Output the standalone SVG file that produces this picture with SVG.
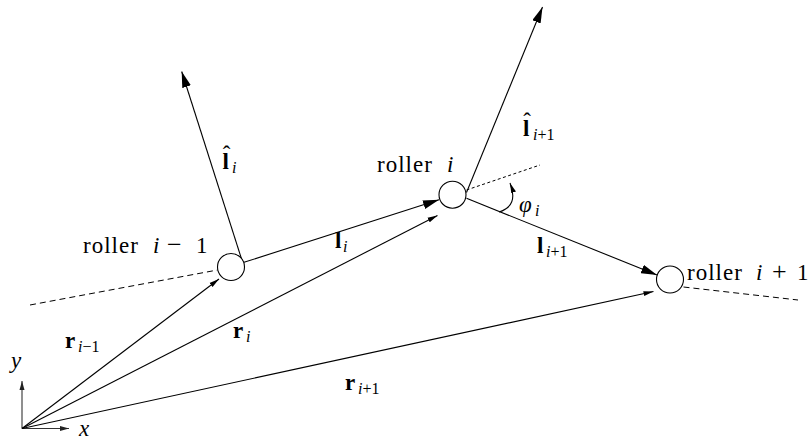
<svg xmlns="http://www.w3.org/2000/svg" width="809" height="440" viewBox="0 0 809 440">
<style>
  .ln { stroke:#000; stroke-width:1.1; fill:none; }
  .dash { stroke:#000; stroke-width:1; fill:none; stroke-dasharray:6 4; }
  .dot { stroke:#000; stroke-width:1; fill:none; stroke-dasharray:3 2.5; }
  .ax { stroke:#333; stroke-width:1.1; fill:none; }
  .roller { fill:#fff; stroke:#000; stroke-width:1.1; }
  text { font-size:23px; fill:#000; }
  .word { letter-spacing:1px; }
  .it { font-style:italic; }
  .bf { font-weight:bold; }
  .sub { font-size:16px; }
  .op { font-size:26px; }
</style>
<defs>
  <marker id="big" viewBox="0 0 16 9" markerWidth="16" markerHeight="9" refX="16" refY="4.5" orient="auto" markerUnits="userSpaceOnUse">
    <path d="M0,0 L16,4.5 L0,9 z" fill="#000"/>
  </marker>
  <marker id="small" viewBox="0 0 10 6" markerWidth="10" markerHeight="6" refX="10" refY="3" orient="auto" markerUnits="userSpaceOnUse">
    <path d="M0,0.5 L10,3 L0,5.5 z" fill="#000"/>
  </marker>
  <marker id="axh" viewBox="0 0 9 6" markerWidth="9" markerHeight="6" refX="9" refY="3" orient="auto" markerUnits="userSpaceOnUse">
    <path d="M0,0.5 L9,3 L0,5.5 z" fill="#222"/>
  </marker>
</defs>

<g id="connectors">
  <line class="dash" x1="30" y1="305" x2="217.5" y2="270"/>
  <line class="dash" x1="683.5" y1="287" x2="798" y2="300"/>
  <line class="dot" x1="466.5" y1="190" x2="540" y2="165"/>
  <line class="ax" x1="22" y1="428.5" x2="22" y2="381" marker-end="url(#axh)"/>
  <line class="ax" x1="22" y1="428.5" x2="69" y2="428.5" marker-end="url(#axh)"/>
  <line class="ln" x1="22" y1="428.5" x2="219" y2="279" marker-end="url(#small)"/>
  <line class="ln" x1="22" y1="428.5" x2="437.5" y2="215.5" marker-end="url(#small)"/>
  <line class="ln" x1="22" y1="428.5" x2="653.5" y2="291.5" marker-end="url(#small)"/>
  <line class="ln" x1="244" y1="262.3" x2="439" y2="199.8" marker-end="url(#big)"/>
  <line class="ln" x1="466.5" y1="198.3" x2="657" y2="275" marker-end="url(#big)"/>
  <line class="ln" x1="242.5" y1="262" x2="181.7" y2="71.5" marker-end="url(#big)"/>
  <line class="ln" x1="466.5" y1="192.5" x2="542.5" y2="7" marker-end="url(#big)"/>
  <path class="ln" d="M499,212 Q519,206 510,183" marker-end="url(#small)"/>
</g>

<g font-family="Liberation Serif, Times New Roman, DejaVu Serif, serif">
<g id="roller-i-1">
  <circle class="roller" cx="231" cy="267" r="13.5"/>
  <text x="83" y="253" class="word">roller</text>
  <text x="153" y="253" class="it">i</text>
  <text x="167" y="253" class="op">−</text>
  <text x="196" y="253">1</text>
</g>
<g id="roller-i">
  <circle class="roller" cx="452.5" cy="194.7" r="13.5"/>
  <text x="377" y="172" class="word">roller</text>
  <text x="447" y="172" class="it">i</text>
</g>
<g id="roller-i1">
  <circle class="roller" cx="670" cy="279.5" r="13.5"/>
  <text x="687" y="279.5" class="word">roller</text>
  <text x="756" y="279.5" class="it">i</text>
  <text x="772" y="279.5" class="op">+</text>
  <text x="797" y="279.5">1</text>
</g>

<g id="labels">
  <text x="222.5" y="169"><tspan class="bf">l</tspan><tspan x="226.5" dy="-7" text-anchor="middle">ˆ</tspan><tspan x="232" dy="11" class="sub it">i</tspan></text>
  <text x="523" y="136"><tspan class="bf">l</tspan><tspan x="527" dy="-7" text-anchor="middle">ˆ</tspan><tspan x="533" dy="11" class="sub"><tspan class="it">i</tspan>+1</tspan></text>
  <text x="335" y="248"><tspan class="bf">l</tspan><tspan x="343" dy="4" class="sub it">i</tspan></text>
  <text x="537" y="253"><tspan class="bf">l</tspan><tspan x="546" dy="4" class="sub"><tspan class="it">i</tspan>+1</tspan></text>
  <text x="65" y="348"><tspan class="bf">r</tspan><tspan x="78" dy="4" class="sub"><tspan class="it">i</tspan>−1</tspan></text>
  <text x="233" y="338"><tspan class="bf">r</tspan><tspan x="246" dy="4" class="sub it">i</tspan></text>
  <text x="345" y="390"><tspan class="bf">r</tspan><tspan x="358" dy="4" class="sub"><tspan class="it">i</tspan>+1</tspan></text>
  <text x="519" y="212"><tspan class="it">φ</tspan><tspan x="535" dy="4" class="sub it">i</tspan></text>
  <text x="11" y="368" class="it">y</text>
  <text x="79" y="436" class="it">x</text>
</g>
</g>
</svg>
